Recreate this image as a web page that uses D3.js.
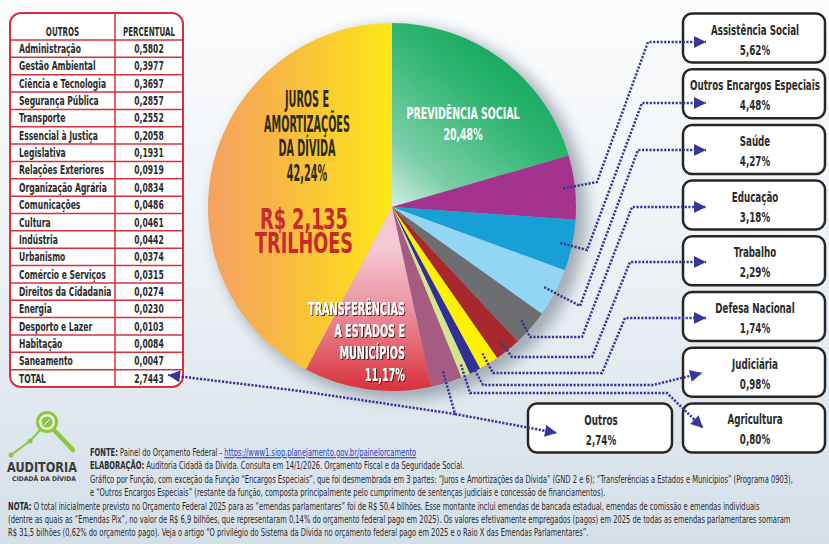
<!DOCTYPE html>
<html>
<head>
<meta charset="utf-8">
<script src="https://cdn.jsdelivr.net/npm/d3@7"></script>
<style>
  body { margin: 0; background: #fff; }
  svg { display: block; }
</style>
</head>
<body>
<svg id="chart"></svg>
<script>
// ---- dados ----
const categories = ["Previdência Social", "Assistência Social", "Outros Encargos Especiais", "Saúde",
  "Educação", "Trabalho", "Defesa Nacional", "Judiciária", "Agricultura", "Outros",
  "Transferências a Estados e Municípios", "Juros e Amortizações da Dívida"];
const percents = [20.48, 5.62, 4.48, 4.27, 3.18, 2.29, 1.74, 0.98, 0.80, 2.74, 11.17, 42.24];

const otherNames = ["Administração", "Gestão Ambiental", "Ciência e Tecnologia", "Segurança Pública",
  "Transporte", "Essencial à Justiça", "Legislativa", "Relações Exteriores", "Organização Agrária",
  "Comunicações", "Cultura", "Indústria", "Urbanismo", "Comércio e Serviços", "Direitos da Cidadania",
  "Energia", "Desporto e Lazer", "Habitação", "Saneamento"];
const otherValues = [0.5802, 0.3977, 0.3697, 0.2857, 0.2552, 0.2058, 0.1931, 0.0919, 0.0834,
  0.0486, 0.0461, 0.0442, 0.0374, 0.0315, 0.0274, 0.0230, 0.0103, 0.0084, 0.0047];
const otherTotal = 2.7443;
const totalBudget = ["R$ 2,135", "TRILHÕES"];

const boxNames = ["Assistência Social", "Outros Encargos Especiais", "Saúde", "Educação",
  "Trabalho", "Defesa Nacional", "Judiciária", "Agricultura"];

const footerLines = [
  [["FONTE:", true], [" Painel do Orçamento Federal - ", false], ["https://www1.siop.planejamento.gov.br/painelorcamento", "link"]],
  [["ELABORAÇÃO:", true], [" Auditoria Cidadã da Dívida. Consulta em 14/1/2026. Orçamento Fiscal e da Seguridade Social.", false]],
  [["Gráfico por Função, com exceção da Função “Encargos Especiais”, que foi desmembrada em 3 partes: “Juros e Amortizações da Dívida” (GND 2 e 6); “Transferências a Estados e Municípios” (Programa 0903),", false]],
  [["e “Outros Encargos Especiais” (restante da função, composta principalmente pelo cumprimento de sentenças judiciais e concessão de financiamentos).", false]],
  [["NOTA:", true], [" O total inicialmente previsto no Orçamento Federal 2025 para as “emendas parlamentares” foi de R$ 50,4 bilhões. Esse montante inclui emendas de bancada estadual, emendas de comissão e emendas individuais", false]],
  [["(dentre as quais as “Emendas Pix”, no valor de R$ 6,9 bilhões, que representaram 0,14% do orçamento federal pago em 2025). Os valores efetivamente empregados (pagos) em 2025 de todas as emendas parlamentares somaram", false]],
  [["R$ 31,5 bilhões (0,62% do orçamento pago). Veja o artigo “O privilégio do Sistema da Dívida no orçamento federal pago em 2025 e o Raio X das Emendas Parlamentares”.", false]]
];

// ---- estilo ----
const sliceColors = ["url(#gPrev)", "#a3338f", "#17a0d6", "#92d5f4", "#6d6e71", "#a8282e",
  "#fff200", "#2e3094", "#d6e38e", "#a65b82", "url(#gTransf)", "url(#gJuros)"];
const FONT = "'Liberation Sans Narrow','DejaVu Sans Condensed','Arial Narrow',sans-serif";
const NAVY = "#35379a";
const width = 829, height = 544;
const cx = 392, cy = 207, radius = 184;

const br = d3.formatLocale({ decimal: ",", thousands: ".", grouping: [3], currency: ["R$", ""] });
const fmtPct = v => br.format(".2f")(v) + "%";
const fmt4 = br.format(".4f");

const svg = d3.select("#chart").attr("width", width).attr("height", height);
const defs = svg.append("defs");

// gradientes em coordenadas locais da pizza (origem no centro)
function gradient(id, x1, y1, x2, y2, stops) {
  const g = defs.append("linearGradient").attr("id", id)
    .attr("gradientUnits", "userSpaceOnUse")
    .attr("x1", x1).attr("y1", y1).attr("x2", x2).attr("y2", y2);
  stops.forEach(s => g.append("stop").attr("offset", s[0]).attr("stop-color", s[1]));
}
gradient("bg", 0, 0, 0, height, [[0, "#fbfcfd"], [0.45, "#eef2f6"], [1, "#d4dfe8"]]);
gradient("gJuros", -radius, 0, 0, 0, [[0, "#f5a062"], [0.5, "#f9c03a"], [1, "#fde816"]]);
gradient("gPrev", 0, 20, 140, -150, [[0, "#eef8f6"], [0.3, "#7dcfa8"], [0.7, "#2fb572"], [1, "#0fa857"]]);
gradient("gTransf", 0, 40, 0, radius, [[0, "#f5c9d3"], [0.45, "#ec8e9c"], [1, "#d8313b"]]);

const blur = defs.append("filter").attr("id", "shadow")
  .attr("x", "-20%").attr("y", "-20%").attr("width", "140%").attr("height", "140%");
blur.append("feGaussianBlur").attr("stdDeviation", 7);

const tshadow = defs.append("filter").attr("id", "tshadow")
  .attr("x", "-10%").attr("y", "-30%").attr("width", "130%").attr("height", "160%");
tshadow.append("feDropShadow").attr("dx", 1).attr("dy", 1).attr("stdDeviation", 0.6)
  .attr("flood-color", "#2a1a1a").attr("flood-opacity", 0.9);

defs.append("marker").attr("id", "arrow")
  .attr("viewBox", "0 0 10 10").attr("refX", 10).attr("refY", 5)
  .attr("markerWidth", 14).attr("markerHeight", 12)
  .attr("markerUnits", "userSpaceOnUse").attr("orient", "auto")
  .append("path").attr("d", "M0,0 L10,5 L0,10 Z").attr("fill", NAVY);

svg.append("rect").attr("width", width).attr("height", height).attr("fill", "url(#bg)");

// mede um texto e devolve a escala horizontal que o leva à largura desejada
function fit(str, size, target, weight = "bold", family = FONT) {
  const t = svg.append("text").attr("font-family", family).attr("font-size", size)
    .attr("font-weight", weight).text(str);
  const w = t.node().getComputedTextLength();
  t.remove();
  return target / w;
}

function txt(parent, x, y, str, size, sx, opts = {}) {
  return parent.append("text")
    .attr("transform", `translate(${x},${y}) scale(${sx},1)`)
    .attr("text-anchor", opts.anchor || "middle")
    .attr("font-family", opts.family || FONT)
    .attr("font-size", size)
    .attr("font-weight", opts.weight || "bold")
    .attr("fill", opts.fill || "#2a2a2a")
    .text(str);
}

// ---- pizza ----
const pie = d3.pie().sort(null).value(d => d)(percents);
const arc = d3.arc().innerRadius(0).outerRadius(radius);

const pg = svg.append("g").attr("transform", `translate(${cx},${cy})`);
pg.append("circle").attr("cx", 8).attr("cy", 6).attr("r", radius + 3)
  .attr("fill", "#76838e").attr("opacity", 0.6).attr("filter", "url(#shadow)");
pg.selectAll("path.slice")
  .data(pie)
  .enter()
  .append("path")
  .attr("class", "slice")
  .attr("d", arc)
  .attr("fill", (d, i) => sliceColors[i]);

// rótulos internos
const sJ = fit("AMORTIZAÇÕES", 23, 86);
const juros = svg.append("g");
["JUROS E", "AMORTIZAÇÕES", "DA DÍVIDA", fmtPct(percents[11])].forEach((s, i) => {
  txt(juros, cx - 85, 107 + i * 24.5, s, 23, sJ, { fill: "#2d2b26" });
});
// valor total: um só texto em duas linhas
const sR = fit(totalBudget[1], 28, 98);
const tot = txt(juros, cx - 88, 229, "", 28, sR, { fill: "#c8282f" });
totalBudget.forEach((s, i) => tot.append("tspan").attr("x", 0).attr("dy", i ? 24 : 0).text(s));

const sP = fit("PREVIDÊNCIA SOCIAL", 16.5, 113);
txt(svg, cx + 71, 119, categories[0].toUpperCase(), 16.5, sP, { fill: "#fff" });
txt(svg, cx + 71, 140, fmtPct(percents[0]), 16.5, sP, { fill: "#fff" });

const sT = fit("TRANSFERÊNCIAS", 17, 97);
const tr = svg.append("g").attr("filter", "url(#tshadow)");
["TRANSFERÊNCIAS", "A ESTADOS E", "MUNICÍPIOS", fmtPct(percents[10])].forEach((s, i) => {
  txt(tr, 405, 315 + i * 22, s, 17, sT, { fill: "#fff", anchor: "end" });
});

// ---- tabela "Outros" ----
const tx0 = 10, tx1 = 183, txm = 115, ty0 = 13, tyh = 40, rowH = 17.35;
const RED = "#d5313c";
const table = svg.append("g");
const nRows = otherNames.length + 1;
table.append("rect").attr("x", tx0).attr("y", ty0).attr("width", tx1 - tx0)
  .attr("height", tyh - ty0 + nRows * rowH).attr("rx", 11)
  .attr("fill", "#fff").attr("stroke", RED).attr("stroke-width", 2);
table.append("line").attr("x1", txm).attr("x2", txm).attr("y1", ty0).attr("y2", tyh + nRows * rowH)
  .attr("stroke", RED).attr("stroke-width", 1.5);
d3.range(nRows).forEach(i => {
  table.append("line").attr("x1", tx0).attr("x2", tx1)
    .attr("y1", tyh + i * rowH).attr("y2", tyh + i * rowH)
    .attr("stroke", RED).attr("stroke-width", 1.5);
});
const sH = fit("PERCENTUAL", 11.5, 52);
txt(table, (tx0 + txm) / 2, 36, "OUTROS", 11.5, sH);
txt(table, (txm + tx1) / 2, 36, "PERCENTUAL", 11.5, sH);
const sRow = fit("Administração", 12.5, 62);
const rows = otherNames.map((n, i) => ({ name: n, value: fmt4(otherValues[i]) }))
  .concat([{ name: "TOTAL", value: fmt4(otherTotal) }]);
rows.forEach((r, i) => {
  const y = tyh + i * rowH + 13;
  txt(table, 19, y, r.name, 12.5, sRow, { anchor: "start" });
  txt(table, (txm + tx1) / 2, y, r.value, 12.5, sRow);
});

// ---- caixas ----
const sB = fit("Outros Encargos Especiais", 14.5, 130);
const boxes = svg.append("g");
function box(x, y, w, name, val) {
  boxes.append("rect").attr("x", x).attr("y", y).attr("width", w).attr("height", 49)
    .attr("rx", 9).attr("fill", "#fff").attr("stroke", "#262626").attr("stroke-width", 2.5);
  txt(boxes, x + w / 2 + 1, y + 21, name, 14.5, sB);
  txt(boxes, x + w / 2 + 1, y + 41, val, 14.5, sB);
}
boxNames.forEach((n, i) => box(683, 13.5 + i * 55.7, 142, n, fmtPct(percents[i + 1])));
box(528, 403.5, 144, categories[9], fmtPct(percents[9]));

// ---- linhas de chamada ----
const elbows = {
  "Assistência Social": [[597, 182], [648, 42], [706, 42]],
  "Outros Encargos Especiais": [[587, 250], [642, 103], [706, 103]],
  "Saúde": [[580, 306], [638, 150], [706, 150]],
  "Educação": [[530, 337], [582, 337], [632, 207], [706, 207]],
  "Trabalho": [[512, 357], [592, 357], [630, 262], [706, 262]],
  "Defesa Nacional": [[493, 373], [602, 373], [625, 318], [706, 318]],
  "Judiciária": [[483, 385], [653, 385], [702, 373]],
  "Agricultura": [[470, 393], [667, 393], [703, 428]],
  "Outros": [[455, 414], [557, 433]]
};
const line = d3.line().curve(d3.curveLinear);
const leaders = svg.append("g").attr("fill", "none").attr("stroke", NAVY)
  .attr("stroke-width", 2.5).attr("stroke-dasharray", "2.2,1.5");
pie.forEach((d, i) => {
  const pts = elbows[categories[i]];
  if (!pts) return;
  const a = (d.startAngle + d.endAngle) / 2;
  const r0 = radius - 12;
  const start = [cx + r0 * Math.sin(a), cy - r0 * Math.cos(a)];
  leaders.append("path").attr("d", line([start].concat(pts))).attr("marker-end", "url(#arrow)");
});
// total da tabela -> junção com "Outros"
leaders.append("path")
  .attr("d", line([[455, 414], [300, 391], [168, 375]]))
  .attr("marker-end", "url(#arrow)");

// ---- logo ----
const GREEN = "#8cc63f";
const logo = svg.append("g");
logo.append("path").attr("d", line([[11, 455], [30, 441], [41, 429]]))
  .attr("fill", "none").attr("stroke", GREEN).attr("stroke-width", 2);
[[11, 455], [30, 441]].forEach(p => logo.append("circle").attr("cx", p[0]).attr("cy", p[1]).attr("r", 2.5).attr("fill", GREEN));
logo.append("line").attr("x1", 54).attr("y1", 430).attr("x2", 73).attr("y2", 450)
  .attr("stroke", GREEN).attr("stroke-width", 4.5).attr("stroke-linecap", "round");
logo.append("circle").attr("cx", 47).attr("cy", 422).attr("r", 9.5)
  .attr("fill", "#eaf3dc").attr("stroke", GREEN).attr("stroke-width", 3);
logo.append("circle").attr("cx", 47).attr("cy", 422).attr("r", 5.5).attr("fill", GREEN);
logo.append("path").attr("d", "M44,425 L50,419").attr("stroke", "#fff").attr("stroke-width", 1);
txt(logo, 42, 472, "AUDITORIA", 14, fit("AUDITORIA", 14, 70, "bold", "'DejaVu Sans',sans-serif"),
  { family: "'DejaVu Sans',sans-serif", fill: "#3a3a3a" });
txt(logo, 44, 481, "CIDADÃ DA DÍVIDA", 6.4, fit("CIDADÃ DA DÍVIDA", 6.4, 64, "bold", "'DejaVu Sans',sans-serif"),
  { family: "'DejaVu Sans',sans-serif", fill: "#3a3a3a" });

// ---- rodapé ----
const foot = svg.append("g");
const footNodes = footerLines.map(parts => {
  const t = foot.append("text")
    .attr("font-family", FONT).attr("font-size", 11).attr("fill", "#2b2b2b");
  parts.forEach(p => {
    const ts = t.append("tspan").text(p[0]);
    if (p[1] === true) ts.attr("font-weight", "bold");
    if (p[1] === "link") ts.attr("fill", "#1f3fc4").attr("text-decoration", "underline");
  });
  return t;
});
const fsx = 704 / footNodes[2].node().getComputedTextLength();
footNodes.forEach((t, i) => {
  const x = i < 4 ? 90 : 8;
  t.attr("transform", `translate(${x},${456 + i * 13.4}) scale(${fsx},1)`);
});
</script>
</body>
</html>
